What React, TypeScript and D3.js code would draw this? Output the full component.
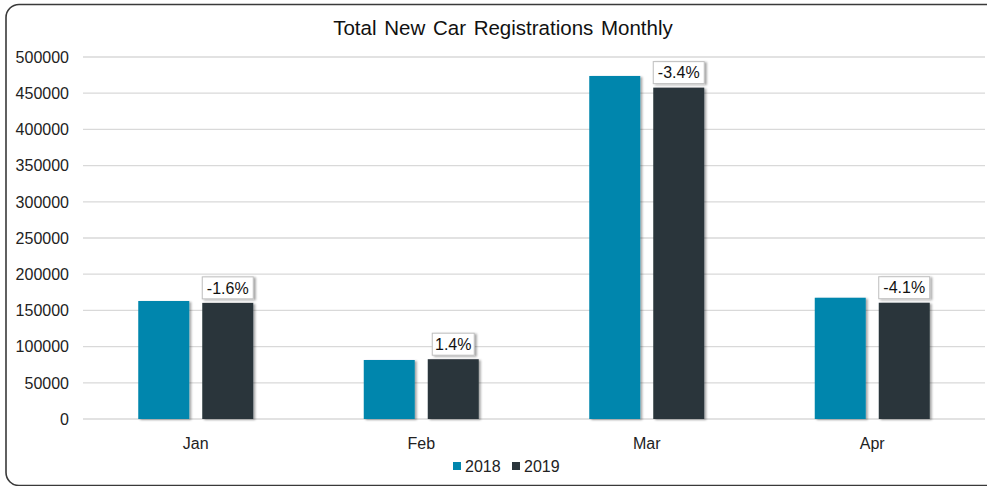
import React from "react";
import * as d3 from "d3";

const categories = ["Jan", "Feb", "Mar", "Apr"];
const seriesNames = ["2018", "2019"];
const values2018 = [163000, 81500, 473800, 167500];
const values2019 = [160400, 82600, 457700, 160600];
const changeLabels = ["-1.6%", "1.4%", "-3.4%", "-4.1%"];
const yTicks = [0, 50000, 100000, 150000, 200000, 250000, 300000, 350000, 400000, 450000, 500000];
const colors = ["#0086AD", "#2A353B"];

const W = 987;
const H = 486;
const plotLeft = 83;
const plotRight = 985;
const plotTop = 57;
const plotBottom = 419;
const font = "'Liberation Sans', Arial, sans-serif";

export default function App() {
  const x = d3.scaleBand<string>().domain(categories).range([plotLeft, plotRight]).paddingInner(0).paddingOuter(0);
  const y = d3.scaleLinear().domain([0, 500000]).range([plotBottom, plotTop]);
  const bw = 51;
  const gap = 13;
  const series = [values2018, values2019];
  const labelW = (s: string) => s.length * 9 + 6;

  return (
    <svg width={W} height={H} style={{ position: "absolute", left: 0, top: 0 }} fontFamily={font}>
      <defs>
        <filter id="sh" x="-20%" y="-20%" width="150%" height="150%">
          <feDropShadow dx="2" dy="1" stdDeviation="1.2" floodColor="#000" floodOpacity="0.35" />
        </filter>
      </defs>
      <rect x={0} y={0} width={W} height={H} fill="#fff" />
      <rect x={6} y={4.5} width={W + 20} height={H - 5} rx={13} ry={13} fill="#fff" stroke="#3a3a3a" strokeWidth={1.6} />
      <text x={503} y={35} textAnchor="middle" fontSize={20.5} wordSpacing={2} fill="#111">Total New Car Registrations Monthly</text>
      {yTicks.map((t) => (
        <g key={t}>
          <line x1={plotLeft} x2={plotRight} y1={y(t)} y2={y(t)} stroke="#d9d9d9" strokeWidth={1.3} />
          <text x={69} y={y(t)} dy="0.36em" textAnchor="end" fontSize={16} fill="#222">{t}</text>
        </g>
      ))}
      {categories.map((c, i) => {
        const cx = x(c)! + x.bandwidth() / 2;
        return (
          <g key={c}>
            {series.map((vals, s) => {
              const bx = s === 0 ? cx - gap / 2 - bw : cx + gap / 2;
              return (
                <rect key={s} x={bx} y={y(vals[i])} width={bw} height={plotBottom - y(vals[i])} fill={colors[s]} filter="url(#sh)" />
              );
            })}
            <text x={cx} y={443} dy="0.36em" textAnchor="middle" fontSize={16} fill="#222">{c}</text>
            {(() => {
              const lx = cx + gap / 2 + bw / 2;
              const ly = y(values2019[i]) - 15;
              const w = labelW(changeLabels[i]);
              return (
                <g>
                  <rect x={lx - w / 2} y={ly - 11} width={w} height={22} fill="#fff" stroke="#bfbfbf" strokeWidth={1} filter="url(#sh)" />
                  <text x={lx} y={ly} dy="0.36em" textAnchor="middle" fontSize={16} fill="#111">{changeLabels[i]}</text>
                </g>
              );
            })()}
          </g>
        );
      })}
      {seriesNames.map((n, s) => {
        const lx = 453 + s * 59;
        return (
          <g key={n}>
            <rect x={lx} y={462} width={8} height={8} fill={colors[s]} />
            <text x={lx + 12} y={466} dy="0.36em" fontSize={16} fill="#222">{n}</text>
          </g>
        );
      })}
    </svg>
  );
}
